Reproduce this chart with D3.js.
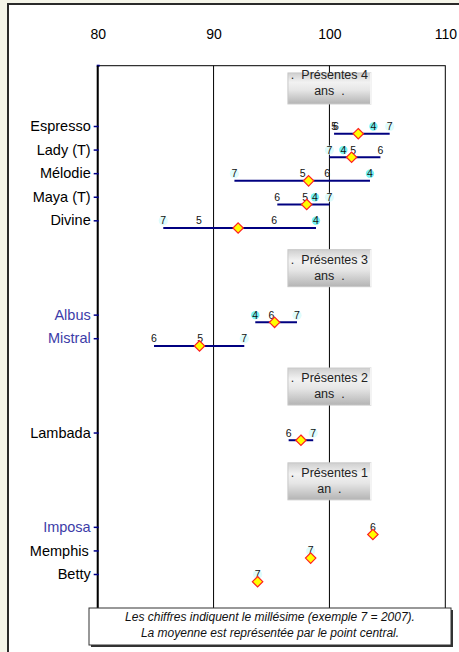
<!DOCTYPE html>
<html><head><meta charset="utf-8">
<script src="https://cdn.jsdelivr.net/npm/d3@7"></script>
<style>
html,body{margin:0;padding:0;background:#f5f5e9;}
svg{display:block;font-family:"Liberation Sans",Arial,sans-serif;}
</style></head>
<body><svg id="c" width="459" height="652"></svg>
<script>
// ---- data ----
const categories = ["Espresso","Lady (T)","Mélodie","Maya (T)","Divine","Albus","Mistral","Lambada","Imposa","Memphis","Betty"];
const rowIndex   = [0,1,2,3,4,8,9,13,17,18,19];
const blueNames  = ["Albus","Mistral","Imposa"];
const years      = ["4","5","6","7"];
const v2004 = [103.8,101.2,103.5,98.75,98.84,93.6,null,null,null,null,null];
const v2005 = [100.4,102.05,97.7,97.9,88.74,null,88.85,null,null,null,null];
const v2006 = [100.55,104.4,99.8,95.5,95.24,95.0,84.86,96.48,103.75,null,null];
const v2007 = [105.2,100.0,91.8,100.0,85.66,97.2,92.65,98.6,null,98.38,93.8];
const xTicks = [80,90,100,110];
const groupLabels = [["Présentes 4","ans"],["Présentes 3","ans"],["Présentes 2","ans"],["Présentes 1","an"]];
const groupRows   = [-1.72,6.03,11.05,15.07];
const note = ["Les chiffres indiquent le millésime (exemple 7 = 2007).","La moyenne est représentée par le point central."];

// ---- layout ----
const svg = d3.select("#c");
const plot = {left:97.7,right:445.3,top:65.7,bottom:646};
const x = d3.scaleLinear().domain([80,110]).range([plot.left,plot.right]);
const y = d3.scaleLinear().domain([0,19]).range([126,574]);
const lineOff = 7.7;

// outer frame
svg.append("rect").attr("x",8).attr("y",4).attr("width",470).attr("height",670)
  .attr("fill","#fff").attr("stroke","#2a2a2a").attr("stroke-width",2);

// plot border + grid
svg.append("rect").attr("x",plot.left).attr("y",plot.top)
  .attr("width",plot.right-plot.left).attr("height",plot.bottom-plot.top)
  .attr("fill","#fff").attr("stroke","#000").attr("stroke-width",1);
svg.append("g").selectAll("line").data(xTicks.slice(1,-1)).join("line")
  .attr("x1",d=>x(d)).attr("x2",d=>x(d)).attr("y1",plot.top).attr("y2",plot.bottom)
  .attr("stroke","#000").attr("stroke-width",1);

// top axis labels
const xa = svg.append("g").attr("transform",`translate(0,${plot.top})`)
  .call(d3.axisTop(x).tickValues(xTicks).tickSize(0).tickPadding(27));
xa.select(".domain").remove();
xa.selectAll("text").attr("font-size",14).attr("fill","#000")
  .attr("font-family","Liberation Sans, Arial, sans-serif");
svg.append("line").attr("x1",x(80)-1).attr("x2",x(80)+2).attr("y1",plot.top).attr("y2",plot.top)
  .attr("stroke","#00008b").attr("stroke-width",2);

// group boxes
const grad = svg.append("defs").append("linearGradient").attr("id","gb").attr("x1",0).attr("x2",0).attr("y1",0).attr("y2",1);
[[0,"#cfcfcf"],[0.3,"#f2f2f2"],[0.55,"#e6e6e6"],[1,"#b4b4b4"]].forEach(([o,c])=>grad.append("stop").attr("offset",o).attr("stop-color",c));
const bw = 83, bh = 37;
const gb = svg.append("g").selectAll("g").data(groupLabels).join("g")
  .attr("transform",(d,i)=>`translate(${x(100)-bw/2},${y(groupRows[i])-bh/2})`);
gb.append("rect").attr("y",(d,i)=>i===0?6:0).attr("width",bw).attr("height",(d,i)=>i===0?bh-6:bh).attr("fill","url(#gb)")
  .attr("stroke","#c8c8c8").attr("stroke-width",1);
gb.append("line").attr("x1",bw).attr("x2",bw).attr("y1",(d,i)=>i===0?6:0).attr("y2",bh).attr("stroke","#fafafa").attr("stroke-width",1.5);
gb.append("text").attr("x",bw/2).attr("y",(d,i)=>i===0?12.5:14).attr("text-anchor","middle").attr("font-size",12.5).attr("fill","#222")
  .attr("xml:space","preserve").text(d=>".  "+d[0]);
gb.append("text").attr("x",bw/2).attr("y",(d,i)=>i===0?28.5:30).attr("text-anchor","middle").attr("font-size",12.5).attr("fill","#222")
  .attr("xml:space","preserve").text(d=>d[1]+"  .");

// left axis
const ya = svg.append("g").attr("transform",`translate(${plot.left},0)`)
  .call(d3.axisLeft(y).tickValues(rowIndex).tickSize(4).tickPadding(3)
    .tickFormat(d=>categories[rowIndex.indexOf(d)]));
ya.select(".domain").attr("stroke","#000").attr("stroke-width",2)
  .attr("d",`M0,${plot.top}V${plot.bottom}`);
ya.selectAll(".tick line").attr("stroke","#00008b").attr("stroke-width",1.5).attr("x2",-4).attr("x1",1);
ya.selectAll(".tick text").attr("font-size",14.5)
  .attr("font-family","Liberation Sans, Arial, sans-serif")
  .attr("fill",d=>blueNames.includes(categories[rowIndex.indexOf(d)])?"#3c3ca8":"#000");
ya.selectAll(".tick").filter(d=>categories[rowIndex.indexOf(d)]==="Memphis").select("text").attr("x",-9);

// data
const series = [v2004,v2005,v2006,v2007];
const rows = categories.map((c,i)=>{
  const pts = series.map((s,k)=>({yr:years[k],v:s[i]})).filter(p=>p.v!=null);
  return {name:c,row:rowIndex[i],pts,mean:d3.mean(pts,p=>p.v),min:d3.min(pts,p=>p.v),max:d3.max(pts,p=>p.v)};
});
const g = svg.append("g");
g.selectAll("line.rng").data(rows.filter(r=>r.pts.length>1)).join("line").attr("class","rng")
  .attr("x1",r=>x(r.min)).attr("x2",r=>x(r.max))
  .attr("y1",r=>y(r.row)+lineOff).attr("y2",r=>y(r.row)+lineOff)
  .attr("stroke","#000080").attr("stroke-width",2);
const labels = rows.flatMap(r=>r.pts.map(p=>({row:r.row,v:p.v,yr:p.yr})));
g.selectAll("circle.halo").data(labels.filter(l=>l.yr==="4"||l.yr==="7")).join("circle").attr("class","halo")
  .attr("cx",l=>x(l.v)).attr("cy",l=>y(l.row)+0.5).attr("r",l=>l.yr==="4"?4.2:4.6)
  .attr("fill",l=>l.yr==="4"?"#55f0f0":"#dcfcfc").attr("opacity",l=>l.yr==="4"?0.8:0.9);
g.selectAll("text.lbl").data(labels).join("text").attr("class","lbl")
  .attr("x",l=>x(l.v)).attr("y",l=>y(l.row)+4).attr("text-anchor","middle")
  .attr("font-size",10.5).attr("fill","#111").text(l=>l.yr);
const ds = 5.2;
g.selectAll("path.mean").data(rows).join("path").attr("class","mean")
  .attr("d",r=>{const cx=x(r.mean),cy=y(r.row)+lineOff;return `M${cx},${cy-ds}L${cx+ds},${cy}L${cx},${cy+ds}L${cx-ds},${cy}Z`;})
  .attr("fill","#ffff00").attr("stroke","#ff2020").attr("stroke-width",1.2);

// footnote
const nb = svg.append("g").attr("transform","translate(89,608)");
nb.append("rect").attr("x",2).attr("y",2).attr("width",362).attr("height",37).attr("fill","#333");
nb.append("rect").attr("width",362).attr("height",37).attr("fill","#fff").attr("stroke","#333").attr("stroke-width",1);
nb.selectAll("text").data(note).join("text").attr("x",181).attr("y",(d,i)=>13+i*16)
  .attr("text-anchor","middle").attr("font-size",12).attr("font-style","italic").attr("fill","#111").text(d=>d);
</script></body></html>
